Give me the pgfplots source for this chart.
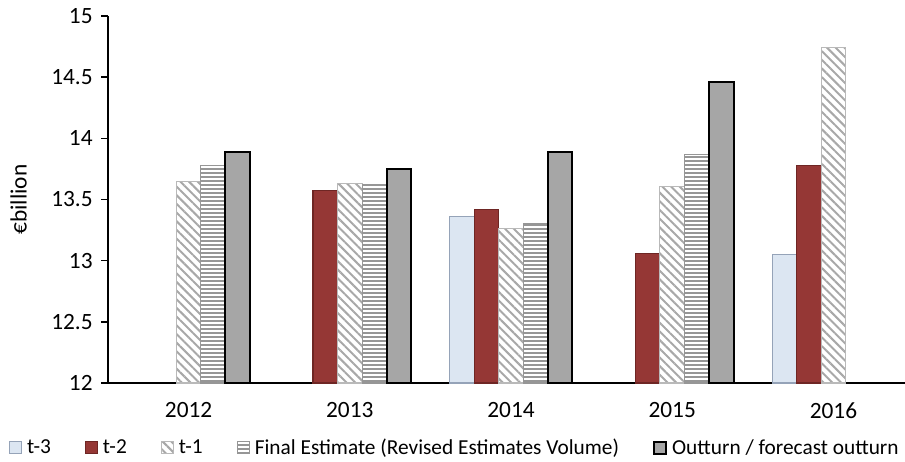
\documentclass[border=0pt]{standalone}
\usepackage{fontspec}
\setmainfont{Carlito}
\usepackage{pgfplots}
\pgfplotsset{compat=1.18}
\usetikzlibrary{patterns.meta}
\definecolor{tthreefill}{HTML}{DCE6F2}
\definecolor{tthreedraw}{HTML}{95A3B8}
\definecolor{ttwofill}{HTML}{953735}
\definecolor{ttwodraw}{HTML}{6E2624}
\definecolor{outfill}{HTML}{A6A6A6}
\definecolor{hatchA}{HTML}{A8A8A8}
\definecolor{hatchB}{HTML}{969696}
\pgfplotsset{
  sqlegend/.style={legend image code/.code={\draw[##1] (0pt,-4.5pt) rectangle (9pt,4.5pt);}}
}
\begin{document}
\begin{tikzpicture}
\useasboundingbox (0pt,0pt) rectangle (678.75pt,345.75pt);
\begin{axis}[
  at={(81pt,58.5pt)}, anchor=south west,
  scale only axis, width=604.5pt, height=275.25pt,
  xmin=-0.5, xmax=4.5, ymin=12, ymax=15,
  ybar=0pt, bar width=18.4pt,
  axis x line*=bottom, axis y line*=left,
  axis line style={line width=1.1pt, black},
  xtick={0,1,2,3,4},
  xticklabels={2012,2013,2014,2015,2016},
  x tick style={draw=none},
  extra x ticks={-0.5,0.5,1.5,2.5,3.5,4.5},
  extra x tick labels={},
  extra x tick style={major tick length=5pt, tick style={line width=1.1pt, black, draw=black}},
  ytick={12,12.5,13,13.5,14,14.5,15},
  y tick style={line width=1.1pt, black},
  tick align=outside,
  major tick length=5pt,
  /pgf/number format/assume math mode=true,
  tick label style={font=\fontsize{17.5}{21}\selectfont},
  xticklabel style={yshift=-6pt},
  yticklabel style={xshift=-3pt},
  ylabel={€billion},
  ylabel style={font=\fontsize{17.5}{21}\selectfont, at={(axis description cs:-0.111,0.5)}, anchor=center},
  legend columns=-1,
  legend style={draw=none, fill=none, inner sep=0pt, outer sep=0pt,
    at={(axis description cs:-0.1228,-0.177)}, anchor=west,
    font=\fontsize{16}{19}\selectfont,
    /tikz/every odd column/.append style={column sep=3.75pt},
    /tikz/every even column/.append style={column sep=25.5pt},
    nodes={inner sep=0pt, outer sep=0pt}},
  legend cell align=left,
]
\addplot[sqlegend, fill=tthreefill, draw=tthreedraw, line width=0.8pt] coordinates {(2,13.36) (4,13.05)};
\addlegendentry{t-3}
\addplot[sqlegend, fill=ttwofill, draw=ttwodraw, line width=0.8pt] coordinates {(1,13.57) (2,13.42) (3,13.055) (4,13.78)};
\addlegendentry{t-2}
\addplot[sqlegend, draw=hatchA!80, line width=0.8pt, pattern={Lines[angle=-45,distance=4.6pt,line width=1.5pt]}, pattern color=hatchA] coordinates {(0,13.65) (1,13.63) (2,13.265) (3,13.61) (4,14.745)};
\addlegendentry{t-1}
\addplot[sqlegend, draw=hatchB, line width=0.8pt, pattern={Lines[angle=0,distance=3pt,line width=1.1pt]}, pattern color=hatchB] coordinates {(0,13.78) (1,13.625) (2,13.305) (3,13.87)};
\addlegendentry{Final Estimate (Revised Estimates Volume)}
\addplot[sqlegend, fill=outfill, draw=black, line width=1.5pt] coordinates {(0,13.885) (1,13.75) (2,13.885) (3,14.46)};
\addlegendentry{Outturn / forecast outturn}
\end{axis}
\end{tikzpicture}
\end{document}
